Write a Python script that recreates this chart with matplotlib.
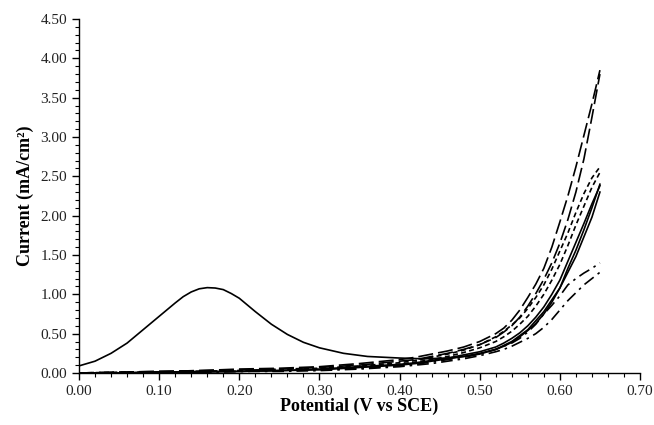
import matplotlib
matplotlib.use("Agg")
import matplotlib.pyplot as plt
from matplotlib.ticker import MultipleLocator, FormatStrFormatter

plt.rcParams['font.family'] = ['Liberation Serif', 'DejaVu Serif']

# potential grid (V vs SCE) shared by the scan curves
potential = [0.00, 0.05, 0.10, 0.15, 0.20, 0.25, 0.30, 0.35, 0.40, 0.42, 0.44, 0.46,
             0.48, 0.50, 0.52, 0.53, 0.54, 0.55, 0.56, 0.57, 0.58, 0.59, 0.60, 0.61,
             0.62, 0.63, 0.64, 0.65]

long_dash_a = [0.00, 0.01, 0.02, 0.03, 0.05, 0.06, 0.08, 0.12, 0.17, 0.20, 0.24, 0.28,
               0.33, 0.40, 0.50, 0.57, 0.67, 0.80, 0.96, 1.13, 1.33, 1.60, 1.92, 2.25,
               2.62, 3.02, 3.42, 3.85]
long_dash_b = [0.00, 0.01, 0.02, 0.03, 0.04, 0.05, 0.07, 0.10, 0.15, 0.17, 0.21, 0.25,
               0.30, 0.36, 0.45, 0.52, 0.60, 0.71, 0.85, 1.01, 1.19, 1.40, 1.65, 1.95,
               2.30, 2.72, 3.25, 3.80]
short_dash_a = [0.00, 0.01, 0.01, 0.02, 0.03, 0.05, 0.06, 0.09, 0.13, 0.16, 0.20, 0.24,
                0.29, 0.36, 0.46, 0.53, 0.61, 0.70, 0.82, 0.96, 1.12, 1.32, 1.55, 1.78,
                2.04, 2.28, 2.48, 2.62]
short_dash_b = [0.00, 0.00, 0.01, 0.02, 0.03, 0.04, 0.05, 0.08, 0.11, 0.14, 0.17, 0.21,
                0.26, 0.32, 0.40, 0.46, 0.53, 0.62, 0.72, 0.85, 1.00, 1.18, 1.38, 1.62,
                1.88, 2.12, 2.36, 2.55]
solid_a = [0.00, 0.00, 0.01, 0.01, 0.02, 0.03, 0.04, 0.07, 0.10, 0.12, 0.15, 0.18,
           0.21, 0.25, 0.30, 0.34, 0.39, 0.46, 0.54, 0.63, 0.75, 0.90, 1.08, 1.33,
           1.56, 1.82, 2.10, 2.40]
solid_b = [0.00, 0.00, 0.01, 0.02, 0.02, 0.03, 0.05, 0.08, 0.11, 0.13, 0.16, 0.19,
           0.23, 0.27, 0.33, 0.38, 0.44, 0.51, 0.60, 0.71, 0.84, 1.00, 1.18, 1.42,
           1.66, 1.90, 2.15, 2.38]
dash_dot_a = [0.00, 0.00, 0.01, 0.01, 0.02, 0.03, 0.04, 0.06, 0.09, 0.11, 0.14, 0.17,
              0.20, 0.24, 0.30, 0.34, 0.38, 0.44, 0.52, 0.62, 0.75, 0.86, 0.98, 1.12,
              1.20, 1.27, 1.33, 1.40]
dash_dot_b = [0.00, 0.00, 0.00, 0.01, 0.02, 0.02, 0.03, 0.05, 0.08, 0.10, 0.12, 0.15,
              0.18, 0.22, 0.27, 0.30, 0.34, 0.39, 0.44, 0.50, 0.58, 0.68, 0.80, 0.92,
              1.02, 1.12, 1.20, 1.28]

# first scan with the oxidation peak
peak_potential = [0.00, 0.02, 0.04, 0.06, 0.08, 0.10, 0.12, 0.13, 0.14, 0.15, 0.16,
                  0.17, 0.18, 0.19, 0.20, 0.22, 0.24, 0.26, 0.28, 0.30, 0.33, 0.36,
                  0.40, 0.43, 0.46, 0.48, 0.50, 0.52, 0.54, 0.56, 0.58, 0.60, 0.62,
                  0.64, 0.65]
peak_current = [0.09, 0.15, 0.25, 0.38, 0.55, 0.72, 0.89, 0.97, 1.03, 1.07, 1.085,
                1.08, 1.06, 1.01, 0.95, 0.78, 0.62, 0.49, 0.39, 0.32, 0.25, 0.21,
                0.19, 0.18, 0.19, 0.21, 0.24, 0.30, 0.40, 0.55, 0.78, 1.08, 1.48,
                1.98, 2.30]

fig = plt.figure(figsize=(6.54, 4.25), dpi=100)
ax = fig.add_axes([0.1208, 0.1224, 0.8578, 0.8329])

long_ls = (0, (9, 3))
short_ls = (0, (3, 2))
dd_ls = (0, (7, 3, 1.5, 3))
lw = 1.2

ax.plot(peak_potential, peak_current, color='black', lw=lw, ls='-')
ax.plot(potential, solid_a, color='black', lw=lw, ls='-')
ax.plot(potential, solid_b, color='black', lw=lw, ls='-')
ax.plot(potential, long_dash_a, color='black', lw=lw, ls=long_ls)
ax.plot(potential, long_dash_b, color='black', lw=lw, ls=long_ls)
ax.plot(potential, short_dash_a, color='black', lw=lw, ls=short_ls)
ax.plot(potential, short_dash_b, color='black', lw=lw, ls=short_ls)
ax.plot(potential, dash_dot_a, color='black', lw=lw, ls=dd_ls)
ax.plot(potential, dash_dot_b, color='black', lw=lw, ls=dd_ls)

ax.set_xlim(0, 0.70)
ax.set_ylim(0, 4.50)
ax.xaxis.set_major_locator(MultipleLocator(0.10))
ax.xaxis.set_minor_locator(MultipleLocator(0.02))
ax.yaxis.set_major_locator(MultipleLocator(0.50))
ax.yaxis.set_minor_locator(MultipleLocator(0.10))
ax.xaxis.set_major_formatter(FormatStrFormatter('%.2f'))
ax.yaxis.set_major_formatter(FormatStrFormatter('%.2f'))

for s in ['top', 'right']:
    ax.spines[s].set_visible(False)
for s in ['left', 'bottom']:
    ax.spines[s].set_linewidth(1.0)

ax.tick_params(which='major', direction='out', length=5, width=1.0,
               labelsize=11, colors='black', labelcolor='#222222')
ax.tick_params(which='minor', direction='out', length=3, width=0.8)

ax.set_xlabel('Potential (V vs SCE)', fontsize=13, fontweight='bold', labelpad=0)
ax.set_ylabel('Current (mA/cm²)', fontsize=13, fontweight='bold', labelpad=5)

fig.savefig('out.png', dpi=100)
